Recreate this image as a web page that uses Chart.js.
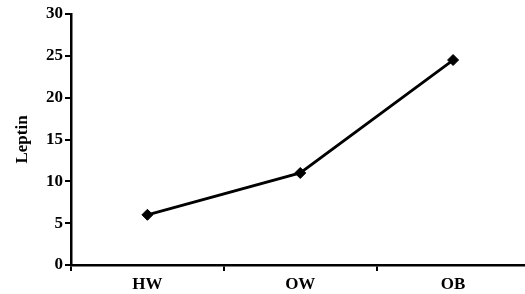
<!DOCTYPE html>
<html>
<head>
<meta charset="utf-8">
<script src="https://cdn.jsdelivr.net/npm/chart.js@4/dist/chart.umd.min.js"></script>
<style>
html,body{margin:0;padding:0;background:#fff;overflow:hidden;width:525px;height:294px;}
#wrap{position:absolute;left:0;top:0;width:536px;height:294px;}
#c{display:block;width:536px;height:294px;}
</style>
</head>
<body>
<div id="wrap"><canvas id="c" width="536" height="294" style="width:536px;height:294px"></canvas></div>
<script>
const categories = ["HW", "OW", "OB"];
const leptinValues = [6.0, 11.0, 24.5];
const yTicks = [0, 5, 10, 15, 20, 25, 30];
const yTitle = "Leptin";

const font = {family: "'Liberation Serif', 'Times New Roman', serif", weight: "bold", size: 17};

new Chart(document.getElementById('c'), {
  type: 'line',
  data: {
    labels: categories,
    datasets: [{
      data: leptinValues,
      borderColor: '#000',
      backgroundColor: '#000',
      borderWidth: 2.8,
      pointStyle: 'rectRot',
      pointRadius: 5.5,
      pointBorderWidth: 1,
      pointBackgroundColor: '#000',
      pointBorderColor: '#000',
      tension: 0,
      fill: false
    }]
  },
  options: {
    responsive: false,
    animation: false,
    devicePixelRatio: 1,
    layout: {padding: {top: 14, right: 0, bottom: 0, left: 0}},
    plugins: {legend: {display: false}, tooltip: {enabled: false}},
    scales: {
      x: {
        type: 'category',
        offset: true,
        grid: {offset: true, drawOnChartArea: false, drawTicks: true, tickLength: 6, color: '#000', lineWidth: 2},
        border: {display: true, color: '#000', width: 2.5},
        ticks: {color: '#000', font: font, padding: 3, maxRotation: 0},
        afterFit: s => { s.height = 29; }
      },
      y: {
        min: 0, max: 30,
        afterBuildTicks: s => { s.ticks = yTicks.map(v => ({value: v})); },
        grid: {drawOnChartArea: false, drawTicks: true, tickLength: 6, color: '#000', lineWidth: 2},
        border: {display: true, color: '#000', width: 2.5},
        ticks: {color: '#000', font: font, padding: 2},
        title: {display: true, text: yTitle, color: '#000', font: font, padding: {top: 12, bottom: 0}},
        afterFit: s => { s.width = 71; }
      }
    }
  }
});
</script>
</body>
</html>
